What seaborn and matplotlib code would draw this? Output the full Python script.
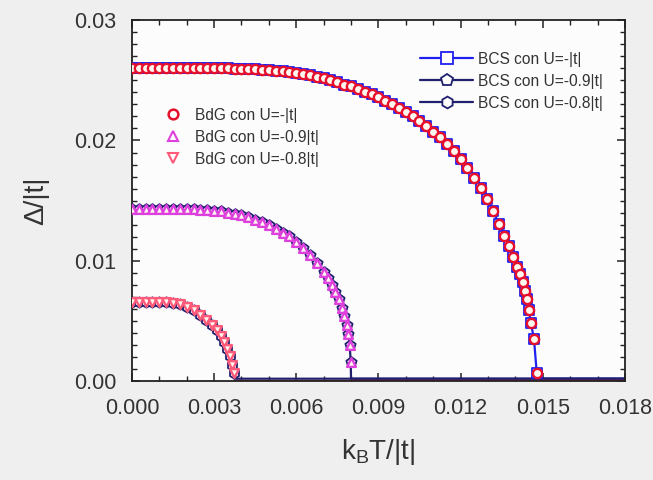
import numpy as np
import pandas as pd
import matplotlib
matplotlib.use("Agg")
import matplotlib.pyplot as plt
from matplotlib.lines import Line2D
from matplotlib.ticker import MultipleLocator, FormatStrFormatter
import seaborn as sns

# ---------------- data ----------------
# U = -|t|
T_10 = [0.0, 0.00025, 0.0005, 0.00075, 0.001, 0.00125, 0.0015, 0.00175, 0.002, 0.00225,
        0.0025, 0.00275, 0.003, 0.00325, 0.0035, 0.00375, 0.004, 0.00425, 0.0045, 0.00475,
        0.005, 0.00525, 0.0055, 0.00575, 0.006, 0.00625, 0.0065, 0.00675, 0.007, 0.00725,
        0.0075, 0.00775, 0.008, 0.00825, 0.0085, 0.00875, 0.009, 0.00925, 0.0095, 0.00975,
        0.01, 0.01025, 0.0105, 0.01075, 0.011, 0.01125, 0.0115, 0.01175, 0.012, 0.01225,
        0.0125, 0.01275, 0.01296, 0.01318, 0.0134, 0.0136, 0.01378, 0.01393, 0.01407, 0.01418,
        0.01427, 0.01435, 0.01442, 0.01449, 0.01457, 0.01468, 0.01478]
D_10 = [0.026, 0.026, 0.026, 0.026, 0.026, 0.026, 0.026, 0.026, 0.026, 0.026,
        0.026, 0.026, 0.026, 0.026, 0.02599, 0.02597, 0.02595, 0.02594, 0.02591, 0.02588,
        0.02584, 0.0258, 0.02574, 0.02568, 0.02561, 0.02551, 0.02541, 0.0253, 0.02516, 0.02502,
        0.02486, 0.02465, 0.02449, 0.02431, 0.02406, 0.02383, 0.02358, 0.0233, 0.02302, 0.0227,
        0.0224, 0.02204, 0.02163, 0.02118, 0.02072, 0.02025, 0.0197, 0.0191, 0.01843, 0.0177,
        0.0169, 0.01602, 0.0151, 0.0141, 0.0131, 0.0121, 0.0112, 0.0103, 0.0095, 0.0089,
        0.0082, 0.0075, 0.0068, 0.0059, 0.0048, 0.0035, 0.0007]

# U = -0.9|t|
T_09 = [0.0, 0.00025, 0.0005, 0.00075, 0.001, 0.00125, 0.0015, 0.00175, 0.002, 0.00225,
        0.0025, 0.00275, 0.003, 0.00325, 0.0035, 0.00375, 0.004, 0.00425, 0.0045, 0.00475,
        0.005, 0.00525, 0.0055, 0.00575, 0.006, 0.00625, 0.0065, 0.00675, 0.007, 0.00716,
        0.0073, 0.00743, 0.00755, 0.00766, 0.00776, 0.00784, 0.0079, 0.00795, 0.00799]
D_09 = [0.0143, 0.0143, 0.0143, 0.0143, 0.0143, 0.0143, 0.0143, 0.0143, 0.01429, 0.01427,
        0.01425, 0.01422, 0.01417, 0.0141, 0.01401, 0.01391, 0.01377, 0.01362, 0.01342, 0.0132,
        0.01295, 0.01267, 0.01232, 0.01203, 0.01157, 0.01109, 0.0105, 0.00984, 0.0091, 0.0086,
        0.008, 0.0074, 0.0068, 0.0061, 0.0054, 0.0047, 0.0039, 0.003, 0.0016]

# U = -0.8|t|
T_08 = [0.0, 0.00025, 0.0005, 0.00075, 0.001, 0.00125, 0.0015, 0.00175, 0.002, 0.00225,
        0.0025, 0.00272, 0.00292, 0.0031, 0.00325, 0.00337, 0.00348, 0.00358, 0.00366, 0.00372]
D_08 = [0.0066, 0.0066, 0.0066, 0.0066, 0.00659, 0.00656, 0.0065, 0.00638, 0.0062, 0.00592,
        0.00552, 0.00512, 0.0047, 0.00422, 0.00372, 0.00322, 0.00265, 0.00205, 0.00135, 0.00065]

# normal-state tail (gap ~ 0 above Tc)
TAIL_10 = [0.0148, 0.018]
TAIL_09 = [0.0080, 0.018]
TAIL_08 = [0.00374, 0.018]
TAIL_D = [0.0002, 0.0002]

bcs_labels = ["BCS con U=-|t|", "BCS con U=-0.9|t|", "BCS con U=-0.8|t|"]
bdg_labels = ["BdG con U=-|t|", "BdG con U=-0.9|t|", "BdG con U=-0.8|t|"]

# ---------------- style ----------------
sns.set_theme(style="ticks")
plt.rcParams["font.family"] = ["Liberation Sans", "DejaVu Sans"]
plt.rcParams["mathtext.fontset"] = "custom"
plt.rcParams["mathtext.rm"] = "Liberation Sans"
plt.rcParams["mathtext.it"] = "Liberation Sans"

BLUE = "#2020f0"
NAVY = "#20206e"
RED = "#e6102c"
MAG = "#dd40dd"
PINK = "#ff5a7a"

fig = plt.figure(figsize=(6.53, 4.80), dpi=100, facecolor="#efefef")
ax = fig.add_axes([0.202, 0.206, 0.957 - 0.202, 0.958 - 0.206])
ax.set_facecolor("#fcfcfc")

curves = [
    (T_10, D_10, TAIL_10, BLUE, "s", 52, RED, "o", 44),
    (T_09, D_09, TAIL_09, NAVY, "p", 60, MAG, "^", 40),
    (T_08, D_08, TAIL_08, NAVY, "h", 55, PINK, "v", 40),
]

for T, D, tail, lc, bm, bs, mc, mm, ms in curves:
    line_df = pd.DataFrame({"T": list(T) + tail, "D": list(D) + TAIL_D})
    sns.lineplot(data=line_df, x="T", y="D", sort=False, estimator=None,
                 color=lc, linewidth=1.6, ax=ax, zorder=2)
    pts = pd.DataFrame({"T": T, "D": D})
    sns.scatterplot(data=pts, x="T", y="D", marker=bm, s=bs, facecolor="white",
                    edgecolor=lc, linewidth=1.3, ax=ax, zorder=3)
    sns.scatterplot(data=pts, x="T", y="D", marker=mm, s=ms, facecolor="#fff8f0",
                    edgecolor=mc, linewidth=1.7, ax=ax, zorder=4)

# thin red line of BdG on the zero tail
for tail in (TAIL_10, TAIL_09, TAIL_08):
    sns.lineplot(x=tail, y=[0.0001, 0.0001], color=RED, linewidth=0.8, ax=ax, zorder=2)

ax.set_xlim(0, 0.018)
ax.set_ylim(0, 0.03)
ax.xaxis.set_major_locator(MultipleLocator(0.003))
ax.xaxis.set_minor_locator(MultipleLocator(0.001))
ax.yaxis.set_major_locator(MultipleLocator(0.01))
ax.yaxis.set_minor_locator(MultipleLocator(0.001))
ax.xaxis.set_major_formatter(FormatStrFormatter("%.3f"))
ax.yaxis.set_major_formatter(FormatStrFormatter("%.2f"))
ax.tick_params(which="both", direction="in", top=True, right=True, colors="#222222")
ax.tick_params(which="major", length=6, width=1.1, labelsize=15.5, labelcolor="#333333")
ax.tick_params(axis="x", which="major", pad=12)
ax.tick_params(axis="y", which="major", pad=11)
ax.tick_params(which="minor", length=3.5, width=1.0)
for sp in ax.spines.values():
    sp.set_linewidth(1.3)
    sp.set_color("#222222")

ax.set_xlabel(r"k$_{\rm B}$T/|t|", fontsize=20, color="#333333", labelpad=13)
ax.set_ylabel("Δ/|t|", fontsize=20, color="#333333", labelpad=18)

# legends
bcs_handles = [
    Line2D([], [], color=BLUE, lw=1.6, marker="s", markersize=8, markerfacecolor="white", markeredgecolor=BLUE, markeredgewidth=1.3),
    Line2D([], [], color=NAVY, lw=1.6, marker="p", markersize=9, markerfacecolor="white", markeredgecolor=NAVY, markeredgewidth=1.3),
    Line2D([], [], color=NAVY, lw=1.6, marker="h", markersize=8.5, markerfacecolor="white", markeredgecolor=NAVY, markeredgewidth=1.3),
]
leg1 = ax.legend(bcs_handles, bcs_labels, loc="upper left", bbox_to_anchor=(0.572, 0.93),
                 frameon=False, fontsize=11.2, handlelength=3.4, handletextpad=0.3,
                 labelspacing=0.45, borderaxespad=0.0)
for t in leg1.get_texts():
    t.set_color("#333333")
ax.add_artist(leg1)

bdg_handles = [
    Line2D([], [], lw=0, marker="o", markersize=7, markerfacecolor="white", markeredgecolor=RED, markeredgewidth=1.8),
    Line2D([], [], lw=0, marker="^", markersize=7, markerfacecolor="white", markeredgecolor=MAG, markeredgewidth=1.5),
    Line2D([], [], lw=0, marker="v", markersize=7, markerfacecolor="white", markeredgecolor=PINK, markeredgewidth=1.5),
]
leg2 = ax.legend(bdg_handles, bdg_labels, loc="upper left", bbox_to_anchor=(0.052, 0.775),
                 frameon=False, fontsize=11.2, handlelength=1.2, handletextpad=0.8,
                 labelspacing=0.45, borderaxespad=0.0)
for t in leg2.get_texts():
    t.set_color("#333333")

fig.savefig("out.png", dpi=100, facecolor=fig.get_facecolor())
